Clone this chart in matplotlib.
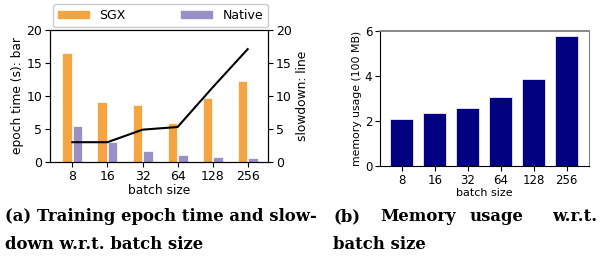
import matplotlib.pyplot as plt
from matplotlib.patches import Patch
import numpy as np

batch_sizes = ["8", "16", "32", "64", "128", "256"]
sgx_time = [16.5, 9.1, 8.7, 5.9, 9.7, 12.2]
native_time = [5.5, 3.0, 1.7, 1.0, 0.75, 0.6]
slowdown = [3.0, 3.0, 4.9, 5.3, 11.3, 17.1]
memory = [2.08, 2.35, 2.6, 3.08, 3.85, 5.78]

sgx_color = '#f4a441'
native_color = '#9b8fc8'

fig = plt.figure(figsize=(6.0, 2.64), dpi=100)
x = np.arange(len(batch_sizes))

# (a) epoch time bars + slowdown line
ax = fig.add_axes([50/600, 1 - 162/264, 218/600, 132/264])
ax.bar(x - 0.15, sgx_time, width=0.27, color=sgx_color, edgecolor='white', linewidth=0.5)
ax.bar(x + 0.15, native_time, width=0.27, color=native_color, edgecolor='white', linewidth=0.5)
ax.set_xlim(-0.64, 5.58)
ax.set_ylim(0, 20)
ax.set_yticks([0, 5, 10, 15, 20])
ax.set_xticks(x)
ax.set_xticklabels(batch_sizes)
ax.tick_params(labelsize=9, length=3.5, pad=2)
ax.set_ylabel("epoch time (s): bar", fontsize=8.8, labelpad=2)
ax.set_xlabel("batch size", fontsize=8.8, labelpad=1)

ax2 = ax.twinx()
ax2.plot(x, slowdown, color='black', linewidth=1.5)
ax2.set_ylim(0, 20)
ax2.set_yticks([0, 5, 10, 15, 20])
ax2.tick_params(labelsize=9, length=3.5, pad=2)
ax2.set_ylabel("slowdown: line", fontsize=8.8, labelpad=3)

handles = [Patch(color=sgx_color, label='SGX'), Patch(color=native_color, label='Native')]
fig.legend(handles=handles, ncol=2, fontsize=9, loc='lower left',
           bbox_to_anchor=(53/600, 1 - 27/264, 215/600, 24/264), mode='expand',
           handleheight=0.5, handlelength=2.5, borderaxespad=0, fancybox=True, framealpha=1)

# (b) memory usage
bx = fig.add_axes([380/600, 1 - 166/264, 209/600, 135/264])
bx.bar(x, memory, width=0.7, color='#000080', edgecolor='white', linewidth=0.5)
bx.set_xlim(-0.66, 5.68)
bx.set_ylim(0, 6)
bx.set_yticks([0, 2, 4, 6])
bx.set_xticks(x)
bx.set_xticklabels(batch_sizes)
bx.tick_params(labelsize=8.5, length=3.5, pad=2)
bx.spines['top'].set_color('gray')
bx.spines['right'].set_color('gray')
bx.spines['top'].set_linewidth(1.3)
bx.set_ylabel("memory usage (100 MB)", fontsize=7.8, labelpad=2)
bx.set_xlabel("batch size", fontsize=8, labelpad=1)

# captions
cap = dict(family='DejaVu Serif', weight='bold', fontsize=11.9, va='baseline')
fig.text(5/600, 1 - 221/264, "(a) Training epoch time and slow-", **cap)
fig.text(5/600, 1 - 249/264, "down w.r.t. batch size", **cap)
for word, px, ha in [("(b)", 333, 'left'), ("Memory", 380, 'left'),
                     ("usage", 470, 'left'), ("w.r.t.", 597, 'right')]:
    fig.text(px/600, 1 - 221/264, word, ha=ha, **cap)
fig.text(333/600, 1 - 249/264, "batch size", **cap)

plt.savefig("out.png", dpi=100)
plt.close()
